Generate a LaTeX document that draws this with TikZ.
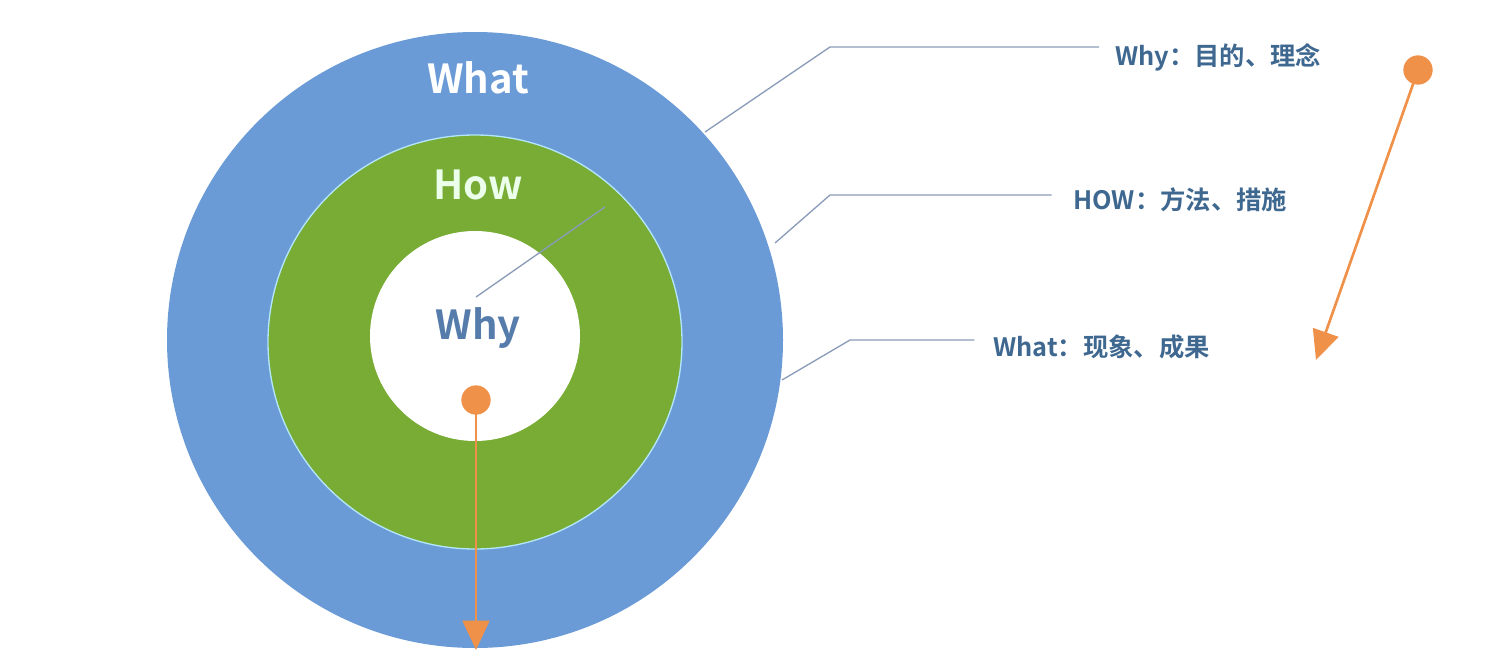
\documentclass[tikz,border=0pt]{standalone}
\usepackage{fontspec}
\setmainfont{Noto Sans CJK SC}[BoldFont={* Bold}]
\usetikzlibrary{arrows.meta}
\definecolor{oblue}{HTML}{6A9BD6}
\definecolor{igreen}{HTML}{78AC34}
\definecolor{txt}{HTML}{3F6890}
\definecolor{org}{HTML}{F0914A}
\definecolor{lead}{HTML}{8A9CB8}
\tikzset{inlabel/.style={font=\fontsize{30}{32}\selectfont\bfseries},
 rlabel/.style={font=\fontsize{19}{21}\selectfont\bfseries,text=txt,anchor=west,inner sep=0pt},
 leadline/.style={draw=lead,line width=1pt},
 dot/.style={circle,fill=org,minimum size=22pt,inner sep=0pt},
 oarrow/.style={draw=org,line width=2pt,-{Triangle[length=22pt,width=20pt]}}}
\begin{document}
\begin{tikzpicture}[x=0.75pt,y=-0.75pt]
\useasboundingbox (0,0) rectangle (1486,668);
\fill[oblue] (475,340) circle (308);
\fill[igreen] (475,342) circle (207);
\draw[white!70!cyan,line width=1pt] (475,342) circle (207);
\fill[white] (475,336) circle (105);
\node[inlabel,text=white] (what) at (478,78) {What};
\node[inlabel,text=white!92!green] (how) at (478,185) {How};
\node[inlabel,text=oblue!80!black] (why) at (478,328) {Why};
\coordinate (a1) at (705,132); \coordinate (b1) at (830,47);
\coordinate (a2) at (775,243); \coordinate (b2) at (830,195);
\coordinate (a3) at (782,380); \coordinate (b3) at (850,340);
\coordinate (w1) at (476,297); \coordinate (w2) at (605,207);
\node[rlabel] (l1) at (1115,57) {Why：目的、理念};
\node[rlabel] (l2) at (1073,200) {HOW：方法、措施};
\node[rlabel] (l3) at (993,347) {What：现象、成果};
\draw[leadline] (a1) -- (b1) -- ([xshift=-12pt]l1.west|-b1);
\draw[leadline] (a2) -- (b2) -- ([xshift=-16pt]l2.west|-b2);
\draw[leadline] (a3) -- (b3) -- ([xshift=-14pt]l3.west|-b3);
\draw[leadline] (w1) -- (w2);
\node[dot] (d1) at (476,400) {};
\coordinate (e1) at (476,650);
\draw[oarrow] (d1.center) -- (e1);
\node[dot] (d2) at (1418,70) {};
\coordinate (e2) at (1316,360);
\draw[oarrow] (d2.center) -- (e2);
\end{tikzpicture}
\end{document}
